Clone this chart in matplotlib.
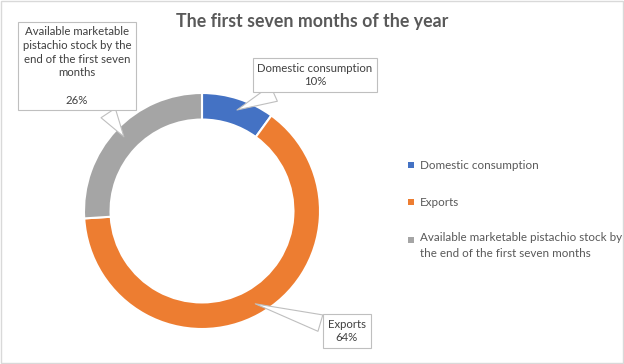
import matplotlib
matplotlib.use("Agg")
import matplotlib.pyplot as plt
from matplotlib.patches import Rectangle
import numpy as np

categories = ["Domestic consumption", "Exports",
              "Available marketable pistachio stock by the end of the first seven months"]
values = [10, 64, 26]
colors = ["#4472C4", "#ED7D31", "#A5A5A5"]
legend_labels = ["Domestic consumption", "Exports",
                 "Available marketable pistachio stock by\nthe end of the first seven months"]
callout_texts = ["Domestic consumption\n10%", "Exports\n64%",
                 "Available marketable\npistachio stock by the\nend of the first seven\nmonths\n\n26%"]
title = "The first seven months of the year"

W, H = 624, 364
plt.rcParams['font.family'] = ['Lato', 'DejaVu Sans']
fig = plt.figure(figsize=(W / 100, H / 100), dpi=100)
fig.patch.set_facecolor("white")

cx, cy, R = 202, 211, 118
ax = fig.add_axes([(cx - R) / W, (H - cy - R) / H, 2 * R / W, 2 * R / H])

wedges, _ = ax.pie(values, colors=colors, startangle=90, counterclock=False, radius=1,
                   wedgeprops=dict(width=0.225, edgecolor="white", linewidth=1.5))
ax.set_xlim(-1, 1)
ax.set_ylim(-1, 1)
ax.set_aspect("auto")
ax.axis("off")

fig.text(312 / W, 1 - 21 / H, title, ha="center", va="center", fontsize=12.8,
         fontweight="bold", color="#595959")

# callouts
box_centers = [(315, 75), (347, 331), (77, 66)]
total = sum(values)
start = 90.0
for i, v in enumerate(values):
    ang = start - v / total * 360 / 2
    start -= v / total * 360
    r = 0.89
    tip = (r * np.cos(np.radians(ang)), r * np.sin(np.radians(ang)))
    bx, by = box_centers[i]
    ax.annotate(callout_texts[i], xy=tip, xycoords="data",
                xytext=(bx, H - by), textcoords="figure pixels",
                ha="center", va="center", fontsize=8.2, color="#404040",
                linespacing=1.3, annotation_clip=False,
                bbox=dict(boxstyle="square,pad=0.4", fc="white", ec="#BFBFBF", lw=0.8),
                arrowprops=dict(arrowstyle="wedge,tail_width=1.5,shrink_factor=0.5",
                                fc="white", ec="#BFBFBF", lw=0.8))

# legend
leg_y = [165, 202, 240]
for lab, col, y in zip(legend_labels, colors, leg_y):
    fig.add_artist(Rectangle((408 / W, (H - y - 3) / H), 6 / W, 6 / H,
                             transform=fig.transFigure, fc=col, ec="none"))
    if "\n" in lab:
        fig.text(420 / W, (H - y + 8) / H, lab, ha="left", va="top",
                 fontsize=8.4, color="#595959", linespacing=1.6)
    else:
        fig.text(420 / W, (H - y) / H, lab, ha="left", va="center",
                 fontsize=8.4, color="#595959")

fig.add_artist(Rectangle((0.5 / W, 1.5 / H), (W - 2) / W, (H - 2.5) / H,
                         transform=fig.transFigure, fill=False, ec="#D9D9D9", lw=1))

fig.savefig("out.png", dpi=100, facecolor="white")
